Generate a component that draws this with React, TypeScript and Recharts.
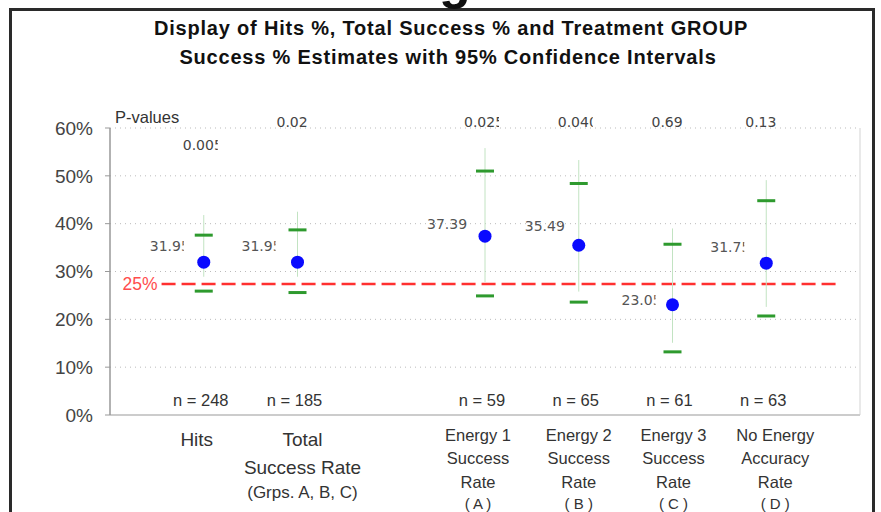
import React from "react";
import { ComposedChart, Scatter, XAxis, YAxis, CartesianGrid, ReferenceLine, ErrorBar } from "recharts";

// x slots for each group (slot 3 stays empty as a spacer)
const groupSlots = [1, 2, 4, 5, 6, 7];
const groupLabels = [
  ["Hits"],
  ["Total", "Success Rate", "(Grps. A, B, C)"],
  ["Energy 1", "Success", "Rate", "( A )"],
  ["Energy 2", "Success", "Rate", "( B )"],
  ["Energy 3", "Success", "Rate", "( C )"],
  ["No Energy", "Accuracy", "Rate", "( D )"],
];
const successRates = [31.95, 31.95, 37.39, 35.49, 23.05, 31.75];
const ciLower = [25.9, 25.6, 24.9, 23.6, 13.2, 20.7];
const ciUpper = [37.6, 38.7, 51.0, 48.4, 35.7, 44.8];
const spanLower = [28.9, 28.9, 27.8, 25.8, 15.1, 22.6];
const spanUpper = [41.8, 42.5, 55.8, 53.3, 39.0, 49.1];
const pValues = ["0.005", "0.02", "0.025", "0.040", "0.69", "0.13"];
const sampleSizes = [248, 185, 59, 65, 61, 63];
const yTicks = [0, 10, 20, 30, 40, 50, 60];
const chanceLevel = 27.4;
const chanceText = "25%";

const FONT = "'Liberation Sans', Arial, sans-serif";
const SMALL_FONT = "'DejaVu Sans', sans-serif";

// label nudges
const LABEL_DY = [-16, -16, -12, -19, -5, -16];
const LABEL_CLIP = [34, 34, 44, 44, 34, 34];
const LABEL_DX = [-54, -56, -58, -54, -51, -56];
const CAT_DX = [-7, 5, -7, 0, 1, 9];
const PVALUE_DROP = [23, 0, 0, 0, 0, 0];

const points = groupSlots.map((x, i) => ({
  x,
  y: successRates[i],
  span: [successRates[i] - spanLower[i], spanUpper[i] - successRates[i]],
  i,
}));
const caps = groupSlots.flatMap((x, i) => [
  { x, y: ciLower[i] },
  { x, y: ciUpper[i] },
]);

const RateDot = (props: any) => {
  const { cx, cy, payload } = props;
  const i = payload.i;
  return (
    <g>
      <svg x={cx + LABEL_DX[i]} y={cy + LABEL_DY[i] - 12} width={LABEL_CLIP[i]} height={20} overflow="hidden">
        <text x={0} y={17} fontSize={14} fill="#555" fontFamily={SMALL_FONT}>
          {String(successRates[i])}
        </text>
      </svg>
      <circle cx={cx} cy={cy} r={6.5} fill="#0a0aff" />
    </g>
  );
};

const Cap = (props: any) => (
  <rect x={props.cx - 9} y={props.cy - 1.5} width={18} height={3} fill="#2e9a2e" />
);

const BottomTick = (props: any) => {
  const { x, y, payload } = props;
  const i = groupSlots.indexOf(payload.value);
  if (i < 0) return null;
  const big = i < 2;
  const offsets = big ? [31, 59, 83] : [26, 49, 73, 94];
  const sizes = big ? [19, 19, 17] : [16.5, 16.5, 16.5, 15];
  return (
    <g>
      <text x={x - 3} y={y - 9} textAnchor="middle" fontSize={16.5} fill="#333">
        n = {sampleSizes[i]}
      </text>
      {groupLabels[i].map((t, k) => (
        <text key={k} x={x + CAT_DX[i]} y={y + offsets[k]} textAnchor="middle" fontSize={sizes[k]} fill="#333">
          {t}
        </text>
      ))}
    </g>
  );
};

const TopTick = (props: any) => {
  const { x, y, payload } = props;
  const i = groupSlots.indexOf(payload.value);
  if (i < 0) return null;
  return (
    <svg x={x - 21} y={y - 18 + PVALUE_DROP[i]} width={35} height={24} overflow="hidden">
      <text x={0} y={17} fontSize={14} fill="#444" fontFamily={SMALL_FONT}>
        {pValues[i]}
      </text>
    </svg>
  );
};

export default function App() {
  return (
    <div style={{ position: "absolute", left: 0, top: 0, width: 881, height: 512, background: "#fff", overflow: "hidden" }}>
      <div
        style={{
          position: "absolute",
          left: 9,
          top: 8,
          width: 866,
          height: 540,
          border: "3px solid #2a2a2a",
          boxSizing: "border-box",
        }}
      />
      <ComposedChart
        width={881}
        height={512}
        margin={{ top: 88, right: 21, bottom: 0, left: 0 }}
        style={{ position: "absolute", left: 0, top: 0, fontFamily: FONT }}
      >
        <CartesianGrid vertical={false} stroke="#bbb" strokeDasharray="1 4" />
        <XAxis
          dataKey="x"
          type="number"
          domain={[0, 8]}
          ticks={groupSlots}
          interval={0}
          height={97}
          tickSize={0}
          tickMargin={0}
          tickLine={false}
          axisLine={{ stroke: "#ccc", strokeWidth: 2 }}
          tick={<BottomTick />}
        />
        <XAxis
          xAxisId="top"
          dataKey="x"
          type="number"
          orientation="top"
          domain={[0, 8]}
          ticks={groupSlots}
          interval={0}
          height={40}
          tickSize={0}
          tickMargin={0}
          tickLine={false}
          axisLine={false}
          tick={<TopTick />}
        />
        <YAxis
          dataKey="y"
          type="number"
          domain={[0, 60]}
          ticks={yTicks}
          interval={0}
          width={110}
          tickSize={5}
          tickMargin={12}
          tickFormatter={(v) => `${v}%`}
          tick={{ fontSize: 19, fill: "#444" }}
          axisLine={{ stroke: "#999", strokeWidth: 1.5 }}
          tickLine={{ stroke: "#999" }}
        />
        <ReferenceLine x={8} stroke="#e2e2e2" strokeWidth={1.5} />
        <ReferenceLine
          segment={[
            { x: 0.55, y: chanceLevel },
            { x: 7.8, y: chanceLevel },
          ]}
          stroke="#ff3030"
          strokeWidth={2.5}
          strokeDasharray="14 6"
          label={{ value: chanceText, position: "left", fill: "#ff4d4d", fontSize: 17.5, offset: 4 }}
        />
        {/* invisible series so the top (p-value) axis gets a scale */}
        <Scatter xAxisId="top" data={points} shape={() => <g />} isAnimationActive={false} />
        <Scatter data={points} shape={() => <g />} isAnimationActive={false}>
          <ErrorBar dataKey="span" direction="y" width={0} stroke="#c2e3c2" strokeWidth={1} isAnimationActive={false} />
        </Scatter>
        <Scatter data={caps} shape={<Cap />} isAnimationActive={false} />
        <Scatter data={points} shape={<RateDot />} isAnimationActive={false} />
      </ComposedChart>
      <svg width={881} height={512} style={{ position: "absolute", left: 0, top: 0, pointerEvents: "none", fontFamily: FONT }}>
        <text x={455} y={-2} fontSize={52} fontWeight="bold" textAnchor="middle" fill="#111">
          g
        </text>
        <text x={451} y={35} fontSize={20} fontWeight="bold" textAnchor="middle" fill="#111" letterSpacing={0.8}>
          Display of Hits %, Total Success % and Treatment GROUP
        </text>
        <text x={448} y={64} fontSize={20} fontWeight="bold" textAnchor="middle" fill="#111" letterSpacing={0.8}>
          Success % Estimates with 95% Confidence Intervals
        </text>
        <text x={115} y={123} fontSize={16.5} fill="#333">
          P-values
        </text>
      </svg>
    </div>
  );
}
